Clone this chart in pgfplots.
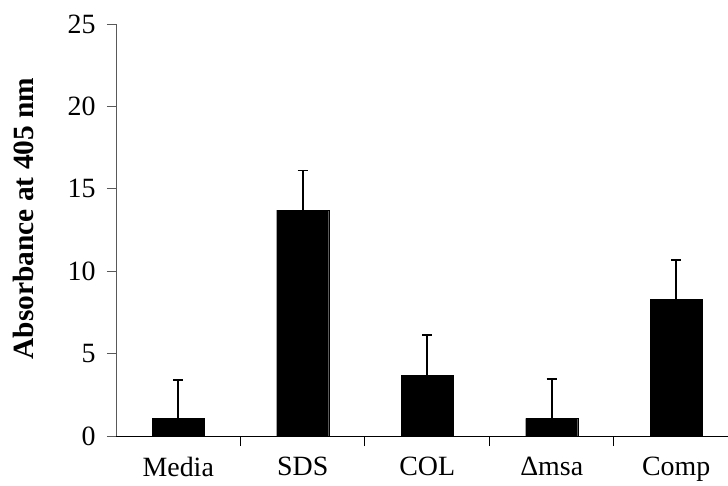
\documentclass[border=0pt]{standalone}
\usepackage{fontspec}
\setmainfont{Liberation Serif}
\usepackage{pgfplots}
\pgfplotsset{compat=1.18}
\begin{document}
\begin{tikzpicture}
\path[use as bounding box] (-116bp,-50bp) rectangle (612bp,436bp);
\begin{axis}[
  at={(0,0)}, anchor=south west,
  scale only axis,
  width=612bp, height=412bp,
  xmin=-0.5, xmax=4.416,
  ymin=0, ymax=25,
  ytick={0,5,10,15,20,25},
  xtick={0,1,2,3,4},
  xticklabels={Media,SDS,COL,Δmsa,Comp},
  minor xtick={0.5,1.5,2.5,3.5},
  major x tick style={draw=none},
  minor x tick style={black, line width=1pt},
  minor tick length=10bp,
  major tick length=9bp,
  tick align=outside,
  axis x line*=bottom,
  axis y line*=left,
  x axis line style={black, line width=1pt, -},
  y axis line style={gray!70!black, line width=0.9pt, -},
  y tick style={gray!70!black, line width=0.9pt},
  /pgf/number format/assume math mode=true,
  tick label style={font=\fontsize{28}{33}\selectfont},
  yticklabel style={xshift=-8bp},
  xticklabel style={yshift=-9bp},
  ylabel={Absorbance at 405 nm},
  every axis y label/.style={at={(axis description cs:0,0.528)}, xshift=-93bp, rotate=90, anchor=center, font=\bfseries\fontsize{29.5}{35}\selectfont},
  clip=false,
]
\addplot[ybar, bar width=52bp, fill=black, draw=black,
  error bars/.cd, y dir=plus, y explicit,
  error bar style={line width=1.6pt, black},
  error mark options={rotate=90, mark size=5bp, line width=1.6pt, black}]
  coordinates {
  (0,1.07) +- (0,2.33)
  (1,13.71) +- (0,2.39)
  (2,3.70) +- (0,2.43)
  (3,1.07) +- (0,2.39)
  (4,8.31) +- (0,2.37)
};
\end{axis}
\end{tikzpicture}
\end{document}
